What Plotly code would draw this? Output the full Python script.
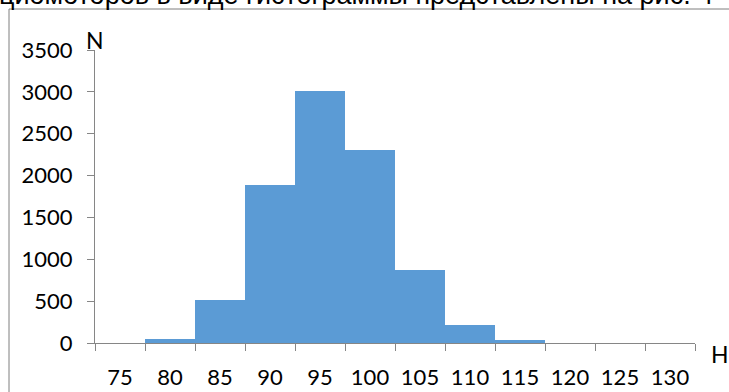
import plotly.graph_objects as go

categories = ["75", "80", "85", "90", "95", "100", "105", "110", "115", "120", "125", "130"]
counts = [0, 45, 510, 1890, 3010, 2300, 870, 210, 30, 0, 0, 0]
y_ticks = [0, 500, 1000, 1500, 2000, 2500, 3000, 3500]

W, H = 729, 392
L, R, T, B = 95, 34, 50, 49
pw, ph = W - L - R, H - T - B

def px(x):
    return (x - L) / pw

def py(y):
    return (H - B - y) / ph

FONT = "Lato"

fig = go.Figure(go.Bar(
    x=categories, y=counts,
    marker=dict(color="#5B9BD5", line=dict(width=0)),
))

fig.update_layout(
    width=W, height=H,
    margin=dict(l=L, r=R, t=T, b=B, autoexpand=False),
    paper_bgcolor="white", plot_bgcolor="white",
    bargap=0, showlegend=False,
    font=dict(family=FONT, size=22, color="black"),
    xaxis=dict(
        type="category", tickson="boundaries", ticks="outside", ticklen=7,
        tickcolor="#868686", tickwidth=1, showline=True, linecolor="#868686",
        linewidth=1, showgrid=False, zeroline=False, ticklabelstandoff=15,
        automargin=False,
        tickfont=dict(family=FONT, size=22, color="black"),
    ),
    yaxis=dict(
        range=[0, 3500], tickvals=y_ticks, ticks="outside", ticklen=7,
        tickcolor="#868686", tickwidth=1, showline=True, linecolor="#868686",
        linewidth=1, showgrid=False, zeroline=False, ticklabelstandoff=10,
        automargin=False,
        tickfont=dict(family=FONT, size=22, color="black"),
    ),
    shapes=[
        dict(type="line", xref="paper", yref="paper", x0=px(9), x1=px(9), y0=py(9), y1=py(H + 5),
             line=dict(color="#7f7f7f", width=1)),
        dict(type="line", xref="paper", yref="paper", x0=px(9), x1=px(W + 5), y0=py(9), y1=py(9),
             line=dict(color="#7f7f7f", width=1)),
    ],
    annotations=[
        dict(text="циомоторов в виде гистограммы представлены на рис. 4", xref="paper", yref="paper",
             x=px(-3), y=py(12), xanchor="left", yanchor="bottom", showarrow=False,
             font=dict(family="Liberation Sans", size=27, color="black")),
        dict(text="N", xref="paper", yref="paper", x=px(95), y=py(40), xanchor="center",
             yanchor="middle", showarrow=False, font=dict(family=FONT, size=23, color="black")),
        dict(text="H", xref="paper", yref="paper", x=px(720), y=py(354), xanchor="center",
             yanchor="middle", showarrow=False, font=dict(family=FONT, size=23, color="black")),
    ],
)

fig.write_html("out.html")
